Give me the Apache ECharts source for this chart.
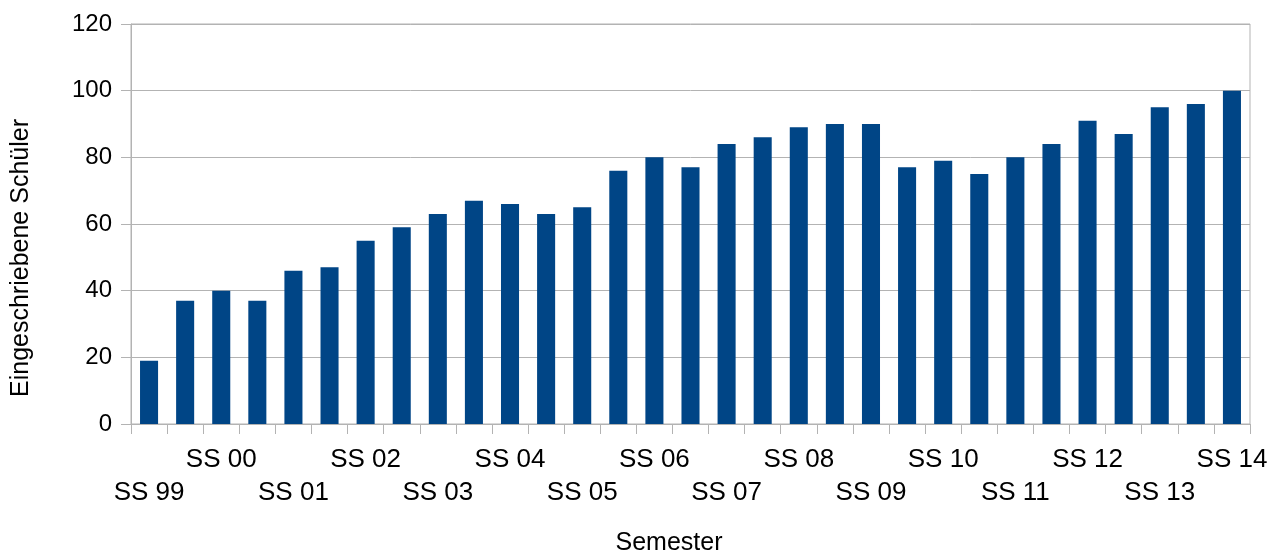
<!DOCTYPE html>
<html>
<head>
<meta charset="utf-8">
<script src="https://cdn.jsdelivr.net/npm/echarts@6/dist/echarts.min.js"></script>
<style>
    html, body { margin: 0; padding: 0; background: #fff; }
    #main { width: 1269px; height: 552px; }
</style>
</head>
<body>
<div id="main"></div>
<script>
'use strict'
// Semester (SS = Sommersemester, WS = Wintersemester)
var semester = ['SS 99', 'WS 99/00', 'SS 00', 'WS 00/01', 'SS 01', 'WS 01/02', 'SS 02', 'WS 02/03',
                'SS 03', 'WS 03/04', 'SS 04', 'WS 04/05', 'SS 05', 'WS 05/06', 'SS 06', 'WS 06/07',
                'SS 07', 'WS 07/08', 'SS 08', 'WS 08/09', 'SS 09', 'WS 09/10', 'SS 10', 'WS 10/11',
                'SS 11', 'WS 11/12', 'SS 12', 'WS 12/13', 'SS 13', 'WS 13/14', 'SS 14'];

var schueler = [19, 37, 40, 37, 46, 47, 55, 59, 63, 67, 66, 63, 65, 76, 80, 77,
                84, 86, 89, 90, 90, 77, 79, 75, 80, 84, 91, 87, 95, 96, 100];

var yTicks = [0, 20, 40, 60, 80, 100, 120];

var gridGray = '#b3b3b3';
var font = '"Liberation Sans", Arial, sans-serif';

var option = {
    animation: false,
    grid: {
        left: 131,
        right: 19,
        top: 24,
        bottom: 128,
        outerBoundsMode: 'none',
        containLabel: false,
        show: true,
        borderColor: gridGray,
        borderWidth: 1
    },
    xAxis: {
        type: 'category',
        data: semester,
        name: 'Semester',
        nameLocation: 'middle',
        nameGap: 107,
        nameTextStyle: {
            fontFamily: font,
            fontSize: 25,
            color: '#000',
            padding: [0, 43, 0, 0]
        },
        axisLine: { lineStyle: { color: gridGray } },
        axisTick: { show: true, length: 10, lineStyle: { color: gridGray } },
        axisLabel: {
            interval: 0,
            margin: 19,
            fontFamily: font,
            fontSize: 26,
            color: '#000',
            lineHeight: 33,
            formatter: function (value, index) {
                if (index % 2 === 1) return '';
                return index % 4 === 0 ? '\n' + value : value;
            }
        }
    },
    yAxis: {
        type: 'value',
        min: yTicks[0],
        max: yTicks[yTicks.length - 1],
        interval: 20,
        name: 'Eingeschriebene Schüler',
        nameLocation: 'middle',
        nameGap: 97,
        nameTextStyle: {
            fontFamily: font,
            fontSize: 25,
            color: '#000',
            padding: [0, 68, 0, 0]
        },
        axisLine: { show: true, lineStyle: { color: gridGray } },
        axisTick: { show: true, length: 10, lineStyle: { color: gridGray } },
        splitLine: { lineStyle: { color: gridGray } },
        axisLabel: {
            margin: 19,
            fontFamily: font,
            fontSize: 24,
            color: '#000'
        }
    },
    series: [
        {
            name: 'Eingeschriebene Schüler',
            type: 'bar',
            barWidth: '50%',
            itemStyle: { color: '#004586' },
            data: schueler
        }
    ]
};

var myChart = echarts.init(document.getElementById('main'));
myChart.setOption(option);
</script>
</body>
</html>
